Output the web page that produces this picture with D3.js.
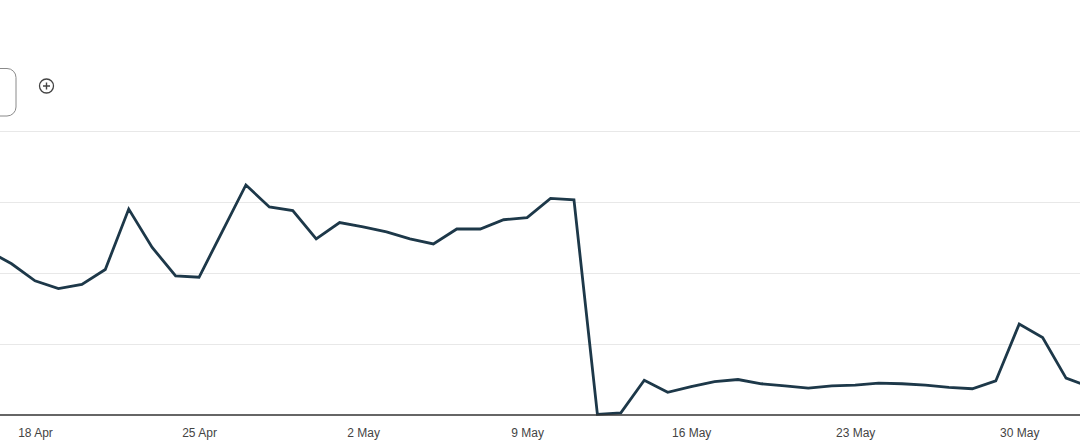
<!DOCTYPE html>
<meta charset="utf-8">
<script src="https://d3js.org/d3.v7.min.js"></script>
<style>
    body {
        margin: 0;
        background: #fff;
        font-family: "Liberation Sans", Arial, sans-serif;
    }
    .grid line {
        stroke: #e8e8e8;
        shape-rendering: crispEdges;
    }
    .grid path {
        stroke-width: 0;
    }
</style>
<div id="viz_area"></div>
<script>
    // daily values, 16 Apr -> 2 Jun (no y labels shown, so units are relative)
    var startDate = new Date(2023, 3, 16)
    var values = [231, 213, 189, 178, 184, 205, 290, 236, 196, 194,
        259, 324, 293, 288, 248, 271, 265, 258, 248, 241,
        262, 262, 275, 278, 305, 303, 1, 3, 49, 32,
        40, 47, 50, 44, 41, 38, 41, 42, 45, 44,
        42, 39, 37, 48, 128, 109, 52, 40]
    var tickDates = ["18 Apr", "25 Apr", "2 May", "9 May", "16 May", "23 May", "30 May"]
    var yTicks = [0, 100, 200, 300, 400]

    var data = values.map(function(v, i) {
        return { date: d3.timeDay.offset(startDate, i), value: v }
    })

    var W = 1080, H = 447
    var svG = d3.select("#viz_area")
        .append("svg")
        .attr("width", W)
        .attr("height", H)

    // the chart continues beyond the left and right edges of the window
    var x = d3.scaleTime()
        .domain([new Date(2023, 3, 18), new Date(2023, 4, 30)])
        .range([35, 1019.2])

    var y = d3.scaleLinear()
        .domain([0, 400])
        .range([415, 131])

    svG.append("g")
        .attr("class", "grid")
        .call(d3.axisLeft(y).tickValues(yTicks.slice(1)).tickSize(-W).tickFormat(""))
        .attr("transform", "translate(" + W + ",0)")
        .call(function(g) { g.selectAll("line").attr("x2", -W).attr("x1", 0) })

    var clip = svG.append("clipPath").attr("id", "clip")
        .append("rect").attr("x", 0).attr("y", 0).attr("width", W).attr("height", H)

    var line = d3.line()
        .x(function(d) { return x(d.date) })
        .y(function(d) { return y(d.value) })

    svG.append("path")
        .datum(data)
        .attr("clip-path", "url(#clip)")
        .attr("fill", "none")
        .attr("stroke", "#1d3849")
        .attr("stroke-width", 2.8)
        .attr("stroke-linejoin", "miter")
        .attr("d", line)

    // baseline
    svG.append("line")
        .attr("x1", 0).attr("x2", W)
        .attr("y1", y(0)).attr("y2", y(0))
        .attr("stroke", "#333")
        .attr("stroke-width", 1.3)

    var fmt = d3.timeFormat("%-d %b")
    var tickVals = tickDates.map(function(t) {
        return data.find(function(d) { return fmt(d.date) == t }).date
    })
    svG.append("g")
        .attr("transform", "translate(0," + y(0) + ")")
        .call(d3.axisBottom(x).tickValues(tickVals).tickFormat(fmt).tickSize(0).tickPadding(13))
        .call(function(g) {
            g.select(".domain").remove()
            g.selectAll("text")
                .attr("fill", "#444")
                .attr("font-size", "12px")
                .attr("font-family", "'Liberation Sans', Arial, sans-serif")
        })

    // controls at top left (partly cut off)
    svG.append("rect")
        .attr("x", -40).attr("y", 68.5)
        .attr("width", 56).attr("height", 47.5)
        .attr("rx", 9)
        .attr("fill", "none")
        .attr("stroke", "#8a8a8a")
        .attr("stroke-width", 1)

    var plus = svG.append("g").attr("transform", "translate(46.5,86)")
    plus.append("circle")
        .attr("r", 7)
        .attr("fill", "none")
        .attr("stroke", "#444")
        .attr("stroke-width", 1.3)
    plus.append("path")
        .attr("d", "M-3.5,0H3.5M0,-3.5V3.5")
        .attr("stroke", "#444")
        .attr("stroke-width", 1.4)
</script>
